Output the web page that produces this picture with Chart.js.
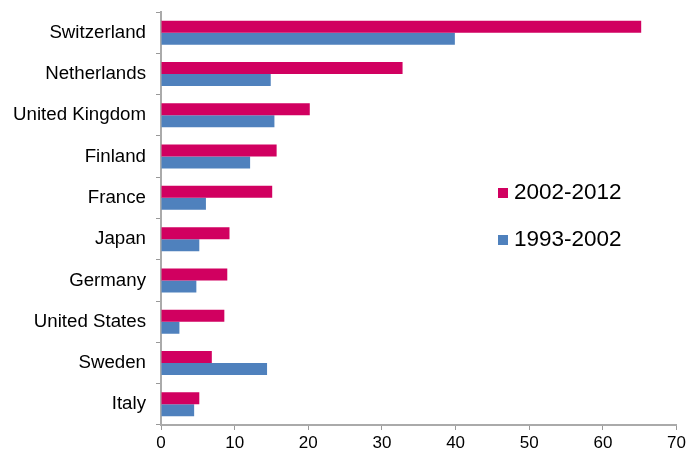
<html>
<head>
<meta charset="utf-8">
<title>Chart</title>
<script src="https://cdn.jsdelivr.net/npm/chart.js@4.4.0/dist/chart.umd.min.js"></script>
<style>
	body{margin:0;background:#fff;}
	.wrap{width:689px;height:454px;}
</style>
</head>
<body>
<div class="wrap"><canvas id="ctx" width="689" height="454"></canvas></div>
<script>
var countries = ['Switzerland','Netherlands','United Kingdom','Finland','France','Japan','Germany','United States','Sweden','Italy'];
var recent = [65.2, 32.8, 20.2, 15.7, 15.1, 9.3, 9.0, 8.6, 6.9, 5.2];   // 2002-2012
var earlier = [39.9, 14.9, 15.4, 12.1, 6.1, 5.2, 4.8, 2.5, 14.4, 4.5]; // 1993-2002
var xTicks = [0,10,20,30,40,50,60,70];

// legend drawn inside the plot area, like the original
var insideLegend = {
	id:'insideLegend',
	afterDraw:function(chart){
		var c = chart.ctx;
		var ys = [193, 240];
		c.save();
		c.font = '22.5px "Liberation Sans", Arial, sans-serif';
		c.textBaseline = 'middle';
		chart.data.datasets.forEach(function(ds,i){
			c.fillStyle = ds.backgroundColor;
			c.fillRect(498, ys[i]-5, 10, 10);
			c.fillStyle = '#000';
			c.fillText(ds.label, 514, ys[i]);
		});
		c.restore();
	}
};

var chart = new Chart(document.getElementById('ctx'),{
	type:'bar',
	data:{
		labels:countries,
		datasets:[
			{label:'2002-2012', data:recent, backgroundColor:'#D10060'},
			{label:'1993-2002', data:earlier, backgroundColor:'#4F81BD'}
		]
	},
	options:{
		indexAxis:'y',
		responsive:false,
		animation:false,
		datasets:{bar:{categoryPercentage:0.58, barPercentage:1.0}},
		layout:{padding:{top:12,right:12,left:0,bottom:0}},
		plugins:{legend:{display:false}, tooltip:{enabled:false}},
		scales:{
			x:{
				min:0, max:70,
				afterBuildTicks:function(s){ s.ticks = xTicks.map(function(v){return {value:v};}); },
				afterFit:function(s){ s.height = 29; },
				grid:{drawOnChartArea:false, tickLength:5, color:'#999'},
				border:{color:'#aaa', width:2},
				ticks:{color:'#000', font:{family:'"Liberation Sans", Arial', size:17}, padding:3}
			},
			y:{
				afterFit:function(s){ s.width = 161; s.paddingTop = 0; s.paddingBottom = 0; },
				grid:{drawOnChartArea:false, tickLength:5, color:'#999', offset:true},
				border:{color:'#aaa', width:2},
				ticks:{color:'#000', font:{family:'"Liberation Sans", Arial', size:18.7}, padding:10}
			}
		}
	},
	plugins:[insideLegend]
});
</script>
</body>
</html>
